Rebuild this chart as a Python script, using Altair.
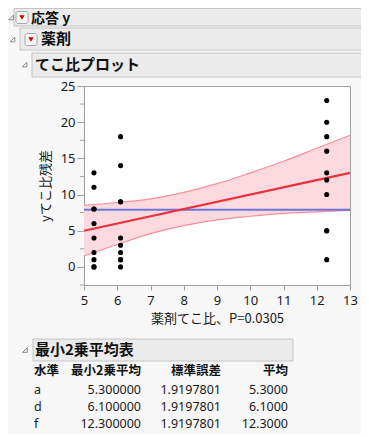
import altair as alt
import pandas as pd

FONT = "Noto Sans CJK JP"
LFONT = "Noto Sans"

# ---- data ----
drug_lev = [5.3] * 10 + [6.1] * 10 + [12.3] * 10
y_resid = [6, 0, 2, 8, 11, 4, 13, 1, 8, 0,
           0, 2, 3, 1, 18, 4, 14, 9, 1, 9,
           13, 10, 18, 5, 23, 12, 5, 16, 1, 20]
fit_x = [5, 13]
fit_y = [5, 13]
mean_y = 7.9
band_x = [5, 6, 7, 8, 9, 10, 11, 12, 13]
band_hi = [8.5, 8.9, 9.4, 10.3, 11.5, 13.0, 14.6, 16.4, 18.2]
band_lo = [1.5, 3.1, 4.6, 5.7, 6.5, 7.0, 7.4, 7.6, 7.8]
y_minor = [-2.5, 2.5, 7.5, 12.5, 17.5, 22.5]
x_ticks = [5, 6, 7, 8, 9, 10, 11, 12, 13]
y_ticks = [0, 5, 10, 15, 20, 25]

levels = ["a", "d", "f"]
lsmeans = [5.3, 6.1, 12.3]
stderrs = [1.9197801, 1.9197801, 1.9197801]
means = [5.3, 6.1, 12.3]

pts = pd.DataFrame({"x": drug_lev, "y": y_resid})
fit = pd.DataFrame({"x": fit_x, "y": fit_y})
band = pd.DataFrame({"x": band_x, "hi": band_hi, "lo": band_lo})
meanline = pd.DataFrame({"x": [band_x[0], band_x[-1]], "y": [mean_y, mean_y]})
minor = pd.DataFrame({"y": y_minor})
tab = pd.DataFrame({"row": [0, 1, 2], "level": levels, "lsm": lsmeans,
                    "se": stderrs, "mean": means})
dummy = pd.DataFrame({"a": [0]})

xs = alt.Scale(domain=[5, 13], nice=False, zero=False)
ys = alt.Scale(domain=[-2.5, 25], nice=False, zero=False)

AX = "#a0a0a0"
xaxis = alt.Axis(values=x_ticks, tickCount=9, tickSize=5, tickColor=AX, domainColor=AX,
                 labelFontSize=13, labelFont=LFONT, labelColor="#1a1a1a", labelPadding=4,
                 labelOverlap=False, labelFlush=False,
                 title="薬剤てこ比、P=0.0305", titleFont=FONT, titleFontSize=13,
                 titleFontWeight="normal", titleColor="#1a1a1a", titlePadding=5, grid=False)
yaxis = alt.Axis(values=y_ticks, tickCount=6, tickSize=7, tickColor=AX, domainColor=AX,
                 labelFontSize=13, labelFont=LFONT, labelColor="#1a1a1a", labelPadding=2,
                 labelOverlap=False, labelFlush=False,
                 title="yてこ比残差", titleFont=FONT, titleFontSize=13,
                 titleFontWeight="normal", titleColor="#1a1a1a", titlePadding=8, grid=False)

X = lambda f: alt.X(f, scale=xs, axis=xaxis)
Y = lambda f: alt.Y(f, scale=ys, axis=yaxis)

base_band = alt.Chart(band)
area = base_band.mark_area(color="#fcd9de", opacity=1, interpolate="monotone").encode(
    x=X("x:Q"), y=Y("hi:Q"), y2="lo:Q")
hi_line = base_band.mark_line(color="#f3909a", strokeWidth=1.2, interpolate="monotone").encode(
    x=X("x:Q"), y=Y("hi:Q"))
lo_line = base_band.mark_line(color="#f3909a", strokeWidth=1.2, interpolate="monotone").encode(
    x=X("x:Q"), y=Y("lo:Q"))
blue = alt.Chart(meanline).mark_line(color="#6c75d8", strokeWidth=2.2).encode(
    x=X("x:Q"), y=Y("y:Q"))
red = alt.Chart(fit).mark_line(color="#e8323f", strokeWidth=2.2).encode(
    x=X("x:Q"), y=Y("y:Q"))
minor_ticks = alt.Chart(minor).mark_rule(color=AX, strokeWidth=1).encode(
    x=alt.value(-4), x2=alt.value(0), y=Y("y:Q"))
points = alt.Chart(pts).mark_circle(color="black", size=26, opacity=1).encode(
    x=X("x:Q"), y=Y("y:Q"))

main = alt.layer(area, hi_line, lo_line, blue, red, minor_ticks, points)

# ---- table ----
ty = alt.Y("row:Q", scale=alt.Scale(domain=[0, 2], range=[304, 338], nice=False, zero=False), axis=None)
tbase = alt.Chart(tab)
tfont = dict(font=LFONT, fontSize=12.5, color="#1a1a1a", baseline="middle")
t_level = tbase.mark_text(align="left", **tfont).encode(x=alt.value(-50), y=ty, text="level:N")
t_lsm = tbase.mark_text(align="right", **tfont).encode(
    x=alt.value(57), y=ty, text=alt.Text("lsm:Q", format=".6f"))
t_se = tbase.mark_text(align="right", **tfont).encode(
    x=alt.value(137), y=ty, text=alt.Text("se:Q", format=".7f"))
t_mean = tbase.mark_text(align="right", **tfont).encode(
    x=alt.value(204), y=ty, text=alt.Text("mean:Q", format=".4f"))
table = alt.layer(t_level, t_lsm, t_se, t_mean)

# ---- decorations (JMP outline headers) ----
def box(x1, x2, y1, y2, fill="#ebebeb", stroke="#c4c4c4", r=0):
    return alt.Chart(dummy).mark_rect(fill=fill, stroke=stroke, strokeWidth=1, cornerRadius=r).encode(
        x=alt.value(x1), x2=alt.value(x2), y=alt.value(y1), y2=alt.value(y2))

def label(txt, x, y, size=15, weight="bold", align="left"):
    return alt.Chart(dummy).mark_text(text=txt, font=FONT, fontSize=size, fontWeight=weight,
                                      align=align, baseline="middle", color="#111111").encode(
        x=alt.value(x), y=alt.value(y))

TRI = "M 1 -1 L 1 1 L -1 1 Z"
def disc(x, y):
    return alt.Chart(dummy).mark_point(shape=TRI, size=22, filled=False, color="#8a8a8a",
                                       strokeWidth=1, opacity=1).encode(x=alt.value(x), y=alt.value(y))

def redbtn(cx, cy):
    b = box(cx - 6, cx + 6, cy - 6, cy + 6, fill="#f4f4f4", stroke="#a8a8a8", r=2)
    t = alt.Chart(dummy).mark_point(shape="triangle-down", size=28, filled=True, color="#d00000",
                                    opacity=1).encode(x=alt.value(cx), y=alt.value(cy))
    return [b, t]

deco = [
    box(-70, 282, -77.5, -60), box(-64, 282, -58, -36), box(-52, 282, -33, -9),
    box(-51, 209, 253, 275),
    disc(-73, -68.5), disc(-71.5, -46.5), disc(-59.5, -21.5), disc(-59, 264),
    *redbtn(-62, -68.5), *redbtn(-53, -46.5),
    label("応答 y", -53, -67, size=14), label("薬剤", -43, -47), label("てこ比プロット", -49, -21),
    label("最小2乗平均表", -49, 264),
    label("水準", -50, 285, size=12.5), label("最小2乗平均", 57, 285, size=12.5, align="right"),
    label("標準誤差", 137, 285, size=12.5, align="right"), label("平均", 204, 285, size=12.5, align="right"),
]

chart = alt.layer(*deco, main, table).resolve_scale(y="independent").properties(
    width=266, height=199,
    autosize=alt.AutoSizeParams(type="none"),
    padding={"left": 76, "top": 78, "right": 11, "bottom": 149},
    background="#f7f7f7",
).configure_view(fill="white", stroke=AX, strokeWidth=1)

chart.save("out.html", embed_options={"renderer": "svg", "actions": False})
